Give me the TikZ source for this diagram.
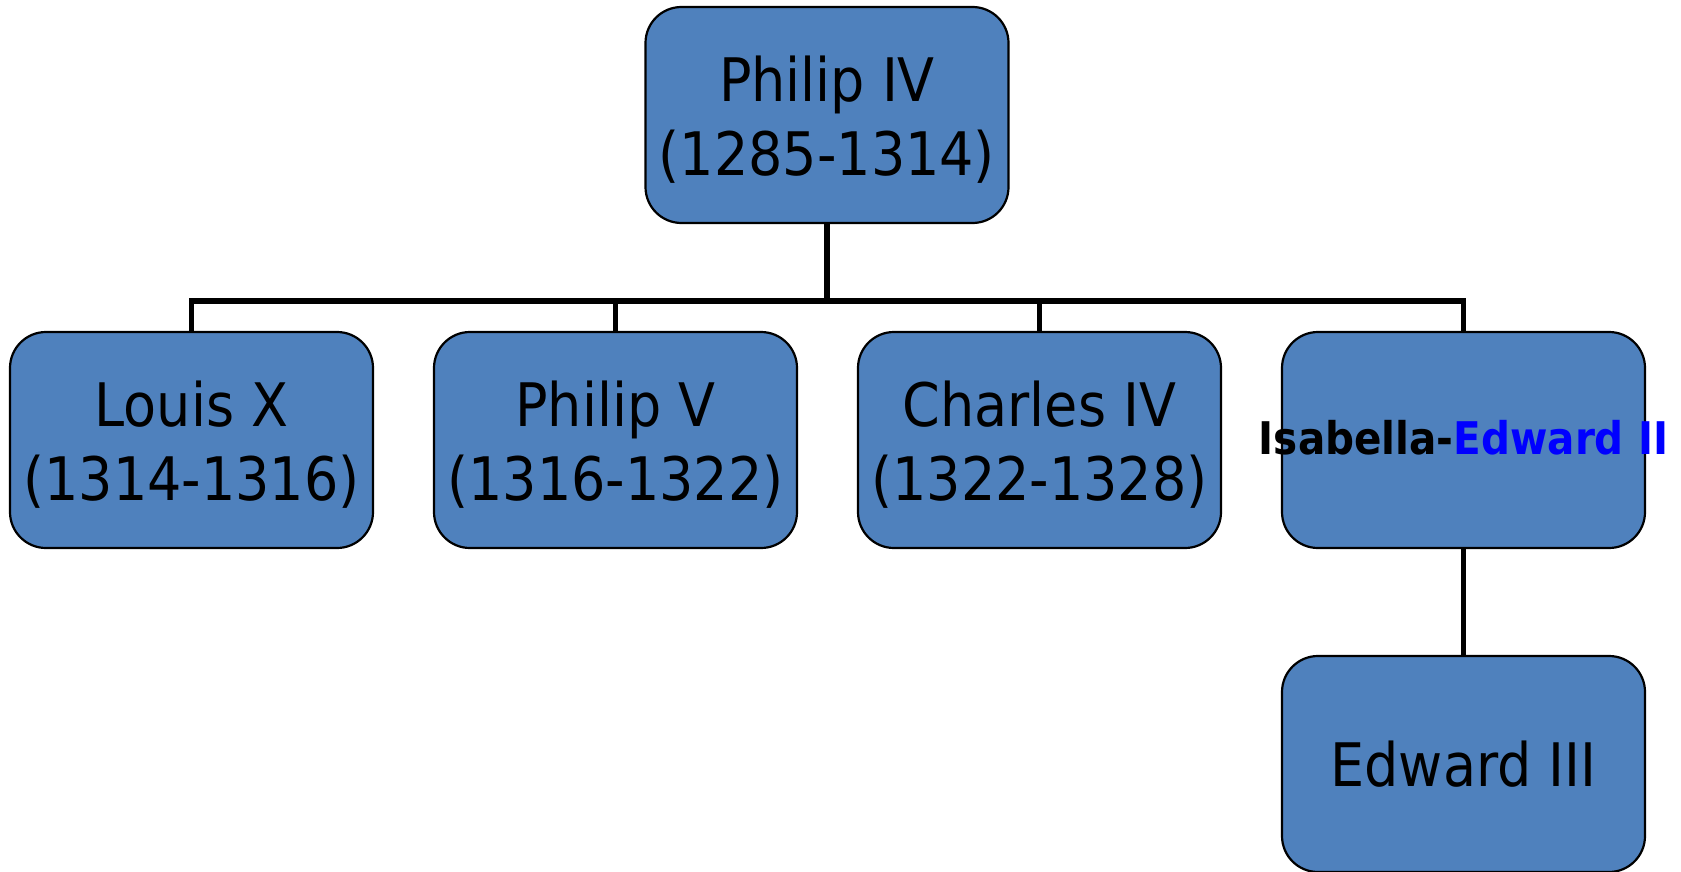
\documentclass[tikz,border=0pt]{standalone}
\usepackage{fontspec}
\setmainfont{DejaVu Sans Condensed}
\usepackage{xcolor}
\usetikzlibrary{positioning}
\definecolor{boxblue}{HTML}{4F81BD}
\definecolor{linkblue}{HTML}{0000FF}

\begin{document}
\begin{tikzpicture}[
  x=1pt,y=-1pt,
  king/.style={draw=black,line width=2.2pt,rounded corners=36pt,fill=boxblue,
    minimum width=363pt,minimum height=216pt,inner sep=0pt,outer sep=0pt},
  kingtext/.style={align=center,inner sep=0pt,yshift=-5pt,
    font=\fontsize{60}{74}\selectfont},
  link/.style={line width=5.4pt,black,line join=miter},
  node distance=61pt
]
  \useasboundingbox (0,0) rectangle (1681,872);

  \node[king,label={[kingtext]center:{Philip IV\\(1285-1314)}}] (philip4) at (827,115) {};
  \node[king,label={[kingtext]center:{Louis X\\(1314-1316)}}] (louis10) at (191.5,440) {};
  \node[king,right=of louis10,label={[kingtext]center:{Philip V\\(1316-1322)}}] (philip5) {};
  \node[king,right=of philip5,label={[kingtext]center:{Charles IV\\(1322-1328)}}] (charles4) {};
  \node[king,right=of charles4] (isabella) {};
  \node[font=\bfseries\fontsize{45}{50}\selectfont,inner sep=0pt] (couple)
    at ([yshift=2pt]isabella.center) {Isabella-\textcolor{linkblue}{Edward II}};
  \node[king,below=108pt of isabella,font=\fontsize{60}{74}\selectfont] (edward3) {Edward III};

  \coordinate (bus) at (827,301);
  \draw[link] (philip4.south) -- (philip4.south |- bus);
  \foreach \kid in {philip5,charles4}
    \draw[link] (\kid.north) -- (\kid.north |- bus);
  \draw[link] (louis10.north) -- (louis10.north |- bus)
    -- (isabella.north |- bus) -- (isabella.north);
  \draw[link] (isabella.south) -- (edward3.north);
\end{tikzpicture}
\end{document}
